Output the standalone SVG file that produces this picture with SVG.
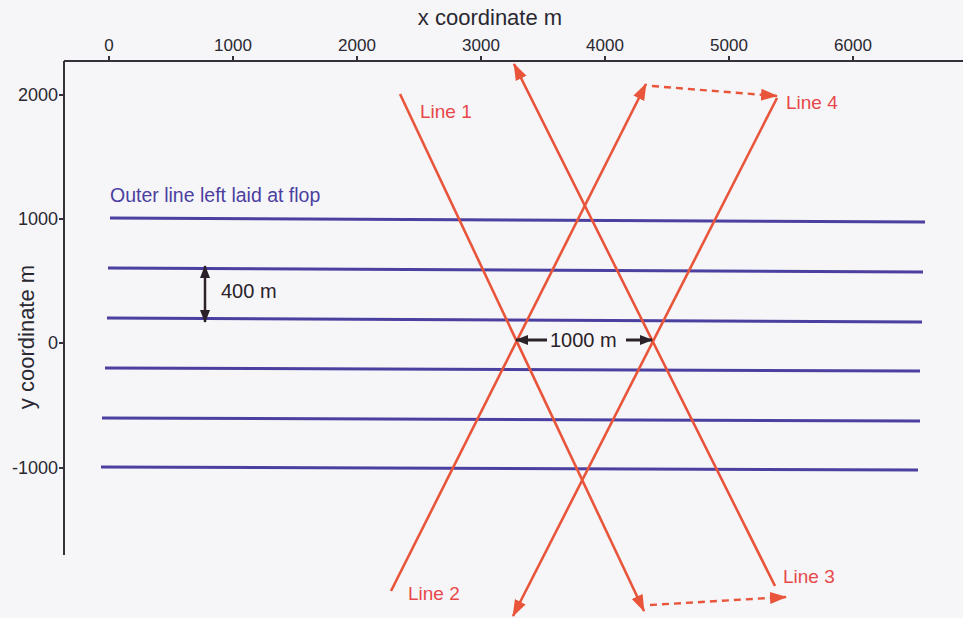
<svg xmlns="http://www.w3.org/2000/svg" width="963" height="618" viewBox="0 0 963 618">
<defs>
<marker id="ar" markerWidth="18" markerHeight="14" refX="16" refY="7" orient="auto" markerUnits="userSpaceOnUse"><path d="M0,1 L17,7 L0,13 Z" fill="#e9553b"/></marker>
<marker id="ak" markerWidth="14" markerHeight="12" refX="12" refY="6" orient="auto-start-reverse" markerUnits="userSpaceOnUse"><path d="M0,1 L13,6 L0,11 Z" fill="#2a2228"/></marker>
</defs>
<style>
.ax{stroke:#35303a;stroke-width:2;fill:none}
.tk{font-family:"Liberation Sans",Arial,sans-serif;font-size:17px;fill:#2a2830}
.tky{font-family:"Liberation Sans",Arial,sans-serif;font-size:18px;fill:#2a2830}
.ttl{font-family:"Liberation Sans",Arial,sans-serif;font-size:22px;fill:#2a2830}
.bl{stroke:#4b3f9f;stroke-width:3;fill:none}
.rd{stroke:#e9553b;stroke-width:2.6;fill:none}
.ds{stroke:#e9553b;stroke-width:2.4;fill:none;stroke-dasharray:7,5}
.lbl{font-family:"Liberation Sans",Arial,sans-serif;font-size:19px;fill:#e8484a}
.blt{font-family:"Liberation Sans",Arial,sans-serif;font-size:19.5px;fill:#4b3f9f}
.dim{font-family:"Liberation Sans",Arial,sans-serif;font-size:20px;fill:#2a2228}
</style>
<rect width="963" height="618" fill="#f6f6f9"/>
<g id="axes">
<line class="ax" x1="64" y1="61" x2="963" y2="61"/>
<line class="ax" x1="64" y1="61" x2="64" y2="555"/>
<text class="ttl" x="490" y="25" text-anchor="middle">x coordinate m</text>
<g class="tk" text-anchor="middle">
<text x="109" y="51">0</text><text x="233" y="51">1000</text><text x="357" y="51">2000</text><text x="481" y="51">3000</text><text x="605" y="51">4000</text><text x="729" y="51">5000</text><text x="853" y="51">6000</text>
</g>
<g class="ax" stroke-width="1.5">
<line x1="109" y1="56" x2="109" y2="61"/><line x1="233" y1="56" x2="233" y2="61"/><line x1="357" y1="56" x2="357" y2="61"/><line x1="481" y1="56" x2="481" y2="61"/><line x1="605" y1="56" x2="605" y2="61"/><line x1="729" y1="56" x2="729" y2="61"/><line x1="853" y1="56" x2="853" y2="61"/>
<line x1="59" y1="95" x2="64" y2="95"/><line x1="59" y1="219" x2="64" y2="219"/><line x1="59" y1="343" x2="64" y2="343"/><line x1="59" y1="468" x2="64" y2="468"/>
</g>
<g class="tky" text-anchor="end">
<text x="58" y="101">2000</text><text x="58" y="225">1000</text><text x="58" y="349">0</text><text x="58" y="474">-1000</text>
</g>
<text class="ttl" x="34" y="337" text-anchor="middle" transform="rotate(-90 34 337)">y coordinate m</text>
</g>
<g id="receiver-lines">
<line class="bl" x1="110" y1="218" x2="925" y2="222"/>
<line class="bl" x1="108" y1="268" x2="923" y2="272"/>
<line class="bl" x1="107" y1="318" x2="922" y2="322"/>
<line class="bl" x1="105" y1="368" x2="920" y2="371"/>
<line class="bl" x1="102" y1="418" x2="920" y2="421"/>
<line class="bl" x1="101" y1="467" x2="918" y2="470"/>
<text class="blt" x="110" y="202">Outer line left laid at flop</text>
</g>
<g id="dim-400">
<line stroke="#2a2228" stroke-width="2.5" x1="205" y1="266" x2="205" y2="322" marker-start="url(#ak)" marker-end="url(#ak)"/>
<text class="dim" x="221" y="298">400 m</text>
</g>
<g id="connectors">
<line id="line1" class="rd" x1="400" y1="94" x2="644" y2="611" marker-end="url(#ar)"/>
<line id="line3" class="rd" x1="775" y1="586" x2="514" y2="64" marker-end="url(#ar)"/>
<line id="line2" class="rd" x1="391" y1="591" x2="646" y2="84" marker-end="url(#ar)"/>
<line id="line4" class="rd" x1="777" y1="98" x2="513" y2="616" marker-end="url(#ar)"/>
<line class="ds" x1="652" y1="86" x2="777" y2="96" marker-end="url(#ar)"/>
<line class="ds" x1="650" y1="605" x2="786" y2="597" marker-end="url(#ar)"/>
</g>
<g id="labels">
<text class="lbl" x="420" y="118">Line 1</text>
<text class="lbl" x="786" y="109">Line 4</text>
<text class="lbl" x="408" y="600">Line 2</text>
<text class="lbl" x="783" y="583">Line 3</text>
</g>
<g id="dim-1000">
<line stroke="#2a2228" stroke-width="3" x1="547" y1="340" x2="516" y2="340" marker-end="url(#ak)"/>
<line stroke="#2a2228" stroke-width="3" x1="626" y1="340" x2="652" y2="340" marker-end="url(#ak)"/>
<text class="dim" x="550" y="347">1000 m</text>
</g>
</svg>
